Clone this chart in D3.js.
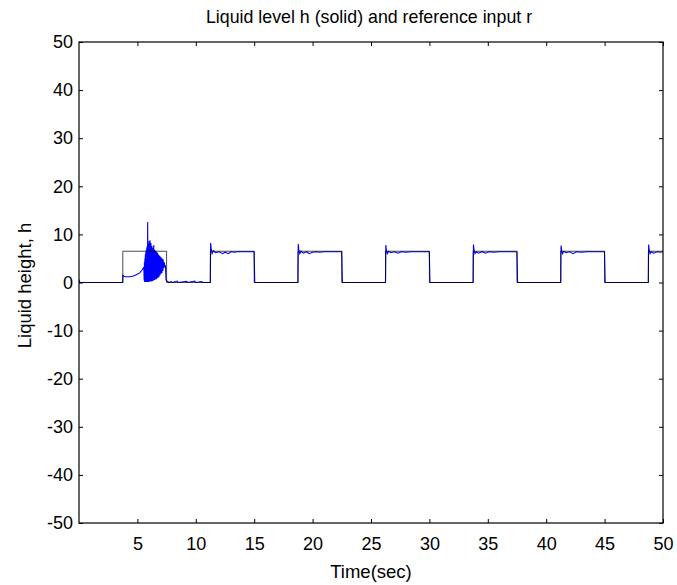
<!DOCTYPE html>
<html>
<head>
<meta charset="utf-8">
<script src="https://cdn.jsdelivr.net/npm/d3@7"></script>
<style>
  body { margin: 0; background: #fff; }
  text { font-family: "Liberation Sans", Arial, sans-serif; fill: #000; }
</style>
</head>
<body>
<div id="chart"></div>
<script>
// axis ticks
const xTicks = [5, 10, 15, 20, 25, 30, 35, 40, 45, 50];
const yTicks = [-50, -40, -30, -20, -10, 0, 10, 20, 30, 40, 50];

// reference input r (switch times and levels, held until next switch)
const rTime  = [0, 3.75, 7.5, 11.25, 15, 18.75, 22.5, 26.25, 30, 33.75, 37.5, 41.25, 45, 48.75, 50];
const rValue = [0, 6.5,  0,   6.5,   0,  6.5,   0,    6.5,   0,  6.5,   0,    6.5,   0,  6.5,   6.5];

// liquid level h
const hTime = [
  0, 0.05, 0.15, 3.74,
  3.76, 3.85, 4.0, 4.3, 4.6, 4.9, 5.2, 5.4, 5.55,
  5.58, 5.60, 5.62, 5.64, 5.66, 5.68, 5.70, 5.72, 5.74, 5.76, 5.78, 5.80, 5.82, 5.84,
  5.86, 5.88, 5.90, 5.92, 5.94, 5.96, 5.98, 6.00, 6.02, 6.04, 6.06, 6.08, 6.10, 6.12,
  6.14, 6.16, 6.18, 6.20, 6.22, 6.24, 6.26, 6.28, 6.30, 6.32, 6.34, 6.36, 6.38, 6.40,
  6.42, 6.44, 6.46, 6.48, 6.50, 6.52, 6.54, 6.56, 6.58, 6.60, 6.62, 6.64, 6.66, 6.68,
  6.70, 6.72, 6.74, 6.76, 6.78, 6.80, 6.82, 6.84, 6.86, 6.88, 6.90, 6.92, 6.94, 6.96,
  6.98, 7.00, 7.02, 7.04, 7.06, 7.08, 7.10, 7.12, 7.14, 7.16, 7.18, 7.20, 7.25, 7.30,
  7.35, 7.40, 7.45,
  7.55, 7.7, 7.9, 8.0, 8.4, 8.5, 9.2, 9.3, 9.9, 10.0, 10.5, 10.6, 11.24,
  11.27, 11.32, 11.4, 11.5, 11.7, 12.0, 12.3, 12.5, 12.8, 13.0, 13.3, 13.6, 14.99, 15.05, 18.74,
  18.77, 18.82, 18.9, 19.0, 19.2, 19.5, 19.7, 20.0, 20.3, 20.6, 21.0, 22.49, 22.55, 26.24,
  26.27, 26.32, 26.4, 26.5, 26.7, 27.0, 27.3, 27.6, 28.0, 28.5, 29.99, 30.05, 33.74,
  33.77, 33.82, 33.9, 34.0, 34.2, 34.5, 34.8, 35.1, 35.5, 36.0, 37.49, 37.55, 41.24,
  41.27, 41.32, 41.4, 41.5, 41.7, 42.0, 42.3, 42.6, 43.0, 43.5, 44.99, 45.05, 48.74,
  48.77, 48.82, 48.9, 49.0, 49.2, 49.5, 49.8, 50
];
const hValue = [
  0.6, 0.1, 0, 0,
  1.5, 1.3, 1.2, 1.2, 1.3, 1.6, 2.0, 2.6, 3.2,
  0.4, 4.2, 0.1, 5.0, 0.3, 5.8, 0.1, 6.4, 0.2, 6.8, 0.1, 7.2, 0.2, 7.6,
  0.1, 12.6, 0.1, 8.0, 0.2, 7.4, 0.1, 8.6, 0.3, 7.0, 0.2, 8.8, 0.2, 6.6,
  0.3, 8.2, 0.4, 6.4, 0.2, 7.6, 0.5, 6.2, 0.3, 7.2, 0.6, 5.8, 0.4, 7.8,
  0.7, 5.6, 0.5, 6.8, 0.8, 5.4, 0.6, 6.6, 1.0, 5.2, 0.7, 6.4, 1.2, 5.0,
  0.9, 6.2, 1.4, 5.0, 1.0, 5.8, 1.6, 4.8, 1.2, 5.6, 1.8, 4.8, 1.5, 5.4,
  2.0, 4.6, 1.8, 5.2, 2.4, 4.4, 2.0, 5.0, 2.6, 4.4, 2.4, 4.8, 3.0, 4.2,
  3.2, 3.6, 0.5,
  0.3, 0, 0.2, 0, 0.3, 0, 0.25, 0, 0.3, 0, 0.2, 0, 0,
  8.2, 7.0, 6.0, 6.6, 6.2, 6.4, 6.0, 6.3, 6.0, 6.4, 6.3, 6.4, 6.4, 0, 0,
  8.0, 6.8, 6.0, 6.5, 6.1, 6.4, 6.0, 6.3, 6.4, 6.3, 6.4, 6.4, 0, 0,
  7.8, 6.7, 6.0, 6.5, 6.2, 6.4, 6.1, 6.4, 6.3, 6.4, 6.4, 0, 0,
  7.9, 6.8, 6.0, 6.4, 6.1, 6.4, 6.1, 6.4, 6.3, 6.4, 6.4, 0, 0,
  7.7, 6.7, 6.0, 6.5, 6.2, 6.4, 6.0, 6.4, 6.3, 6.4, 6.4, 0, 0,
  7.9, 6.8, 6.0, 6.4, 6.1, 6.4, 6.3, 6.4
];

const svgWidth = 677;
const svgHeight = 585;
const margin = { top: 42, right: 14, bottom: 62, left: 79 };
const width = svgWidth - margin.left - margin.right;
const height = svgHeight - margin.top - margin.bottom;

const svg = d3.select("#chart")
              .append("svg")
              .attr("width", svgWidth)
              .attr("height", svgHeight);

const g = svg.append("g")
             .attr("transform", `translate(${margin.left},${margin.top})`);

const x = d3.scaleLinear().domain([0, 50]).range([0, width]);
const y = d3.scaleLinear().domain([-50, 50]).range([height, 0]);

g.append("clipPath").attr("id", "clip")
 .append("rect").attr("width", width).attr("height", height);

// h (blue) under r (black)
const hData = hTime.map((t, i) => [t, hValue[i]]);
const rData = rTime.map((t, i) => [t, rValue[i]]);

g.append("path")
 .datum(hData)
 .attr("clip-path", "url(#clip)")
 .attr("fill", "none")
 .attr("stroke", "#0000ff")
 .attr("stroke-width", 1.1)
 .attr("d", d3.line().x(d => x(d[0])).y(d => y(d[1])));

g.append("path")
 .datum(rData)
 .attr("clip-path", "url(#clip)")
 .attr("fill", "none")
 .attr("stroke", "#000")
 .attr("stroke-width", 1)
 .attr("stroke-opacity", 0.7)
 .attr("d", d3.line().curve(d3.curveStepAfter).x(d => x(d[0])).y(d => y(d[1])));

// axes with inward ticks on all four sides
const fmt = d => String(d);

function styleAxis(sel) {
  sel.select(".domain").remove();
  sel.selectAll("line").attr("stroke", "#000");
  sel.selectAll("text").style("font-size", "18px");
}

g.append("g")
 .attr("transform", `translate(0,${height})`)
 .call(d3.axisBottom(x).tickValues(xTicks).tickSize(-4).tickPadding(14).tickFormat(fmt))
 .call(styleAxis);

g.append("g")
 .call(d3.axisTop(x).tickValues(xTicks).tickSize(-4).tickFormat(""))
 .call(styleAxis);

g.append("g")
 .call(d3.axisLeft(y).tickValues(yTicks).tickSize(-4).tickPadding(6).tickFormat(fmt))
 .call(styleAxis);

g.append("g")
 .attr("transform", `translate(${width},0)`)
 .call(d3.axisRight(y).tickValues(yTicks).tickSize(-4).tickFormat(""))
 .call(styleAxis);

g.append("rect")
 .attr("width", width)
 .attr("height", height)
 .attr("fill", "none")
 .attr("stroke", "#000")
 .attr("stroke-width", 1.2);

// titles
svg.append("text")
   .attr("x", 369)
   .attr("y", 23)
   .attr("text-anchor", "middle")
   .style("font-size", "17.8px")
   .text("Liquid level h (solid) and reference input r");

svg.append("text")
   .attr("x", margin.left + width / 2)
   .attr("y", 578)
   .attr("text-anchor", "middle")
   .style("font-size", "18.5px")
   .text("Time(sec)");

svg.append("text")
   .attr("transform", `translate(31,${margin.top + height / 2 + 3}) rotate(-90)`)
   .attr("text-anchor", "middle")
   .style("font-size", "18.5px")
   .text("Liquid height, h");
</script>
</body>
</html>
